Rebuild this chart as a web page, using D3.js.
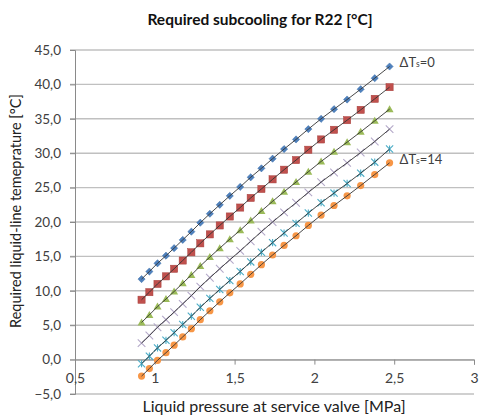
<!DOCTYPE html>
<html>
<head>
<meta charset="utf-8">
<script src="https://cdn.jsdelivr.net/npm/d3@7"></script>
<style>
  html, body { margin: 0; padding: 0; background: #fff; }
  svg { display: block; font-family: Lato, "Open Sans", sans-serif; }
</style>
</head>
<body>
<svg id="chart" width="479" height="417"></svg>
<script>
// ---- data ----
const pressure = [0.917, 0.966, 1.017, 1.070, 1.121, 1.175, 1.229, 1.285, 1.345, 1.407, 1.470, 1.535,
                  1.601, 1.668, 1.738, 1.810, 1.885, 1.962, 2.042, 2.123, 2.205, 2.290, 2.378, 2.471];
const dT0  = [11.7, 12.8, 14.0, 15.1, 16.2, 17.4, 18.6, 19.9, 21.2, 22.5, 23.8, 25.1, 26.5, 27.8, 29.2, 30.6, 32.0, 33.5, 35.0, 36.4, 37.8, 39.3, 40.9, 42.6];
const dT3  = [8.7, 9.8, 11.0, 12.1, 13.2, 14.4, 15.6, 16.9, 18.2, 19.5, 20.8, 22.1, 23.5, 24.8, 26.2, 27.6, 29.0, 30.5, 32.0, 33.4, 34.8, 36.3, 37.9, 39.6];
const dT6  = [5.4, 6.5, 7.7, 8.8, 9.9, 11.1, 12.3, 13.6, 14.9, 16.2, 17.5, 18.8, 20.2, 21.6, 23.0, 24.4, 25.8, 27.3, 28.8, 30.2, 31.6, 33.1, 34.7, 36.4];
const dT9  = [2.4, 3.5, 4.7, 5.8, 6.9, 8.1, 9.3, 10.6, 11.9, 13.2, 14.5, 15.8, 17.2, 18.6, 20.0, 21.4, 22.8, 24.3, 25.8, 27.2, 28.6, 30.1, 31.7, 33.5];
const dT12 = [-0.6, 0.5, 1.7, 2.8, 3.9, 5.1, 6.3, 7.6, 8.9, 10.2, 11.5, 12.8, 14.2, 15.6, 17.0, 18.4, 19.8, 21.3, 22.8, 24.2, 25.6, 27.1, 28.7, 30.6];
const dT14 = [-2.4, -1.3, -0.1, 1.0, 2.1, 3.3, 4.5, 5.8, 7.1, 8.4, 9.7, 11.0, 12.4, 13.8, 15.2, 16.6, 18.0, 19.5, 21.0, 22.4, 23.8, 25.3, 26.9, 28.6];
const seriesNames = ["ΔTs=0", "ΔTs=3", "ΔTs=6", "ΔTs=9", "ΔTs=12", "ΔTs=14"];
const seriesValues = [dT0, dT3, dT6, dT9, dT12, dT14];
const xTicks = [0.5, 1, 1.5, 2, 2.5, 3];
const yTicks = [-5, 0, 5, 10, 15, 20, 25, 30, 35, 40, 45];
const titleText = "Required subcooling for R22 [°C]";
const xTitle = "Liquid pressure at service valve [MPa]";
const yTitle = "Required liquid-line temeprature [°C]";

// ---- styles ----
const colors = ["#4F81BD", "#C0504D", "#9BBB59", "#B4A9C9", "#4BACC6", "#F79646"];
const shapes = ["diamond", "square", "triangle", "x", "star", "circle"];

const svg = d3.select("#chart");
const L = 75, R = 474, T = 50, B = 394;
const x = d3.scaleLinear().domain([0.5, 3]).range([L, R]);
const y = d3.scaleLinear().domain([-5, 45]).range([B, T]);
const fmt = v => d3.format(".1f")(v).replace(".", ",");
const fmtX = v => String(v).replace(".", ",");

// gridlines
svg.append("g").selectAll("line").data(yTicks).join("line")
  .attr("x1", L - 5).attr("x2", R)
  .attr("y1", d => y(d)).attr("y2", d => y(d))
  .attr("stroke", "#c0c0c0").attr("stroke-width", 1.4);

// y axis
const yAxis = d3.axisLeft(y).tickValues(yTicks).tickFormat(fmt).tickSize(5).tickPadding(9);
const gy = svg.append("g").attr("transform", `translate(${L},0)`).call(yAxis);
gy.select(".domain").attr("stroke", "#8a8a8a");
gy.selectAll(".tick line").attr("stroke", "#8a8a8a");
gy.selectAll(".tick text").attr("font-size", 13.5).attr("fill", "#404040")
  .attr("font-family", "Lato, sans-serif");

// x axis at y=0
const xAxis = d3.axisBottom(x).tickValues(xTicks).tickFormat(fmtX).tickSize(5).tickPadding(8);
const gx = svg.append("g").attr("transform", `translate(0,${y(0)})`).call(xAxis);
gx.select(".domain").attr("stroke", "#8a8a8a");
gx.selectAll(".tick line").attr("stroke", "#8a8a8a");
gx.selectAll(".tick text").attr("font-size", 14).attr("fill", "#404040")
  .attr("font-family", "Lato, sans-serif");

// markers
function drawMarker(g, shape, color, cx, cy) {
  if (shape === "diamond") {
    const s = 3.6;
    g.append("path").attr("d", `M${cx},${cy - s}L${cx + s},${cy}L${cx},${cy + s}L${cx - s},${cy}Z`)
      .attr("fill", color).attr("stroke", "#3d6ea8").attr("stroke-width", 0.5);
  } else if (shape === "square") {
    const s = 3.6;
    g.append("rect").attr("x", cx - s).attr("y", cy - s).attr("width", 2 * s).attr("height", 2 * s)
      .attr("fill", color).attr("stroke", "#a8403d").attr("stroke-width", 0.5);
  } else if (shape === "triangle") {
    const s = 4;
    g.append("path").attr("d", `M${cx},${cy - s}L${cx + s},${cy + s * 0.75}L${cx - s},${cy + s * 0.75}Z`)
      .attr("fill", color);
  } else if (shape === "x") {
    const s = 3.8;
    g.append("path").attr("d", `M${cx - s},${cy - s}L${cx + s},${cy + s}M${cx - s},${cy + s}L${cx + s},${cy - s}`)
      .attr("stroke", color).attr("stroke-width", 1.1).attr("fill", "none");
  } else if (shape === "star") {
    const s = 3.6;
    g.append("path").attr("d", `M${cx - s},${cy - s}L${cx + s},${cy + s}M${cx - s},${cy + s}L${cx + s},${cy - s}M${cx},${cy - s}L${cx},${cy + s}`)
      .attr("stroke", color).attr("stroke-width", 1.1).attr("fill", "none");
  } else {
    g.append("circle").attr("cx", cx).attr("cy", cy).attr("r", 3.6).attr("fill", color);
  }
}

const line = d3.line().x((d, i) => x(pressure[i])).y(d => y(d));
seriesValues.forEach((vals, si) => {
  const g = svg.append("g").attr("class", "series");
  vals.forEach((v, i) => drawMarker(g, shapes[si], colors[si], x(pressure[i]), y(v)));
  g.append("path").datum(vals).attr("d", line)
    .attr("fill", "none").attr("stroke", "#333").attr("stroke-width", 0.9);
});

// series annotations
function annotate(si, dy) {
  const vals = seriesValues[si];
  const last = vals.length - 1;
  const t = svg.append("text")
    .attr("x", x(pressure[last]) + 10).attr("y", y(vals[last]) + dy)
    .attr("font-size", 13).attr("fill", "#404040").attr("font-family", "Lato, sans-serif");
  t.append("tspan").text("ΔT");
  t.append("tspan").attr("font-size", 8.5).text("s");
  t.append("tspan").text("=" + seriesNames[si].split("=")[1]);
}
annotate(0, 0);
annotate(5, 1);

// titles
svg.append("text").attr("x", 260).attr("y", 25).attr("text-anchor", "middle")
  .attr("font-size", 15.5).attr("font-weight", "bold").attr("fill", "#111").text(titleText);
svg.append("text").attr("x", 274).attr("y", 412).attr("text-anchor", "middle")
  .attr("font-size", 16).attr("fill", "#222").text(xTitle);
svg.append("text").attr("transform", `translate(21,211) rotate(-90)`).attr("text-anchor", "middle")
  .attr("font-size", 14.5).attr("fill", "#222").text(yTitle);
</script>
</body>
</html>
